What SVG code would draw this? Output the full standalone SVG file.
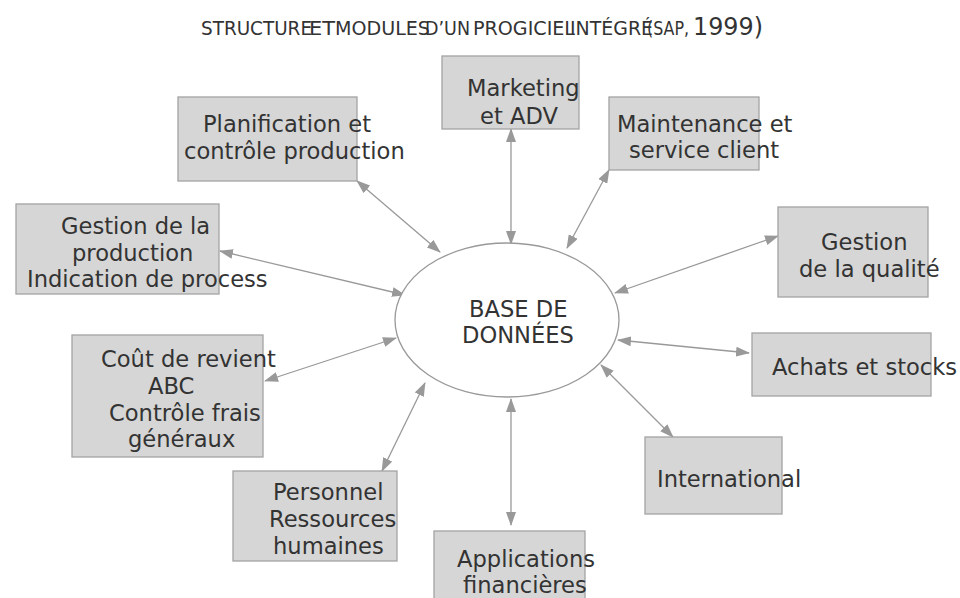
<svg xmlns="http://www.w3.org/2000/svg" width="960" height="598" viewBox="0 0 960 598">
<defs>
<marker id="ah" viewBox="0 0 14 10" refX="13" refY="5" markerWidth="14" markerHeight="10" markerUnits="userSpaceOnUse" orient="auto-start-reverse">
<path d="M0,0 L14,5 L0,10 Z" fill="#999"/>
</marker>
<style>
.box{fill:#d6d6d6;stroke:#a3a3a3;stroke-width:1.3}
.t{font-family:"DejaVu Sans",sans-serif;font-size:22.6px;fill:#333}
.tt{font-family:"DejaVu Sans",sans-serif;font-size:19.5px;fill:#333}
.c{stroke:#999;stroke-width:1.3;fill:none;marker-start:url(#ah);marker-end:url(#ah)}
</style>
</defs>
<rect width="960" height="598" fill="#fff"/>
<g id="title">
<text class="tt" x="201" y="35" textLength="111" lengthAdjust="spacingAndGlyphs">STRUCTURE</text>
<text class="tt" x="309" y="35" textLength="26" lengthAdjust="spacingAndGlyphs">ET</text>
<text class="tt" x="335" y="35" textLength="95" lengthAdjust="spacingAndGlyphs">MODULES</text>
<text class="tt" x="425" y="35" textLength="45" lengthAdjust="spacingAndGlyphs">D’UN</text>
<text class="tt" x="473" y="35" textLength="102" lengthAdjust="spacingAndGlyphs">PROGICIEL</text>
<text class="tt" x="570" y="35" textLength="83" lengthAdjust="spacingAndGlyphs">INTÉGRÉ</text>
<text class="tt" x="647" y="35" textLength="42" lengthAdjust="spacingAndGlyphs">(SAP,</text>
<text class="tt" x="693" y="35" style="font-size:24px" textLength="70" lengthAdjust="spacingAndGlyphs">1999)</text>
</g>
<g id="connectors">
<line class="c" x1="511" y1="129" x2="511" y2="244"/>
<line class="c" x1="357" y1="181" x2="440" y2="252"/>
<line class="c" x1="609" y1="170" x2="567" y2="248"/>
<line class="c" x1="778" y1="236" x2="615" y2="293"/>
<line class="c" x1="220" y1="251" x2="405" y2="295"/>
<line class="c" x1="265" y1="381" x2="396" y2="338"/>
<line class="c" x1="618" y1="340" x2="749" y2="353"/>
<line class="c" x1="601" y1="365" x2="673" y2="437"/>
<line class="c" x1="425" y1="383" x2="382" y2="471"/>
<line class="c" x1="511" y1="399" x2="511" y2="525"/>
</g>
<g id="db">
<ellipse cx="507" cy="320" rx="112" ry="77" fill="#fff" stroke="#999" stroke-width="1.3"/>
<text class="t" x="469" y="317">BASE DE</text>
<text class="t" x="462" y="343">DONNÉES</text>
</g>
<g id="marketing">
<rect class="box" x="442" y="56" width="137" height="73"/>
<text class="t" x="467" y="96">Marketing</text>
<text class="t" x="480" y="124">et ADV</text>
</g>
<g id="planification">
<rect class="box" x="178" y="97" width="179" height="84"/>
<text class="t" x="203" y="132">Planification et</text>
<text class="t" x="184" y="159">contrôle production</text>
</g>
<g id="maintenance">
<rect class="box" x="609" y="97" width="150" height="73"/>
<text class="t" x="617" y="132">Maintenance et</text>
<text class="t" x="629" y="158">service client</text>
</g>
<g id="qualite">
<rect class="box" x="778" y="207" width="150" height="90"/>
<text class="t" x="821" y="250">Gestion</text>
<text class="t" x="799" y="277">de la qualité</text>
</g>
<g id="production">
<rect class="box" x="16" y="204" width="203" height="90"/>
<text class="t" x="61" y="234">Gestion de la</text>
<text class="t" x="72" y="261">production</text>
<text class="t" x="27" y="287">Indication de process</text>
</g>
<g id="cout">
<rect class="box" x="72" y="335" width="191" height="122"/>
<text class="t" x="101" y="367">Coût de revient</text>
<text class="t" x="148" y="394">ABC</text>
<text class="t" x="109" y="421">Contrôle frais</text>
<text class="t" x="128" y="447">généraux</text>
</g>
<g id="achats">
<rect class="box" x="752" y="333" width="179" height="63"/>
<text class="t" x="772" y="375">Achats et stocks</text>
</g>
<g id="international">
<rect class="box" x="645" y="437" width="137" height="77"/>
<text class="t" x="657" y="487">International</text>
</g>
<g id="personnel">
<rect class="box" x="233" y="471" width="164" height="90"/>
<text class="t" x="273" y="500">Personnel</text>
<text class="t" x="269" y="527">Ressources</text>
<text class="t" x="273" y="554">humaines</text>
</g>
<g id="applications">
<rect class="box" x="434" y="531" width="151" height="80"/>
<text class="t" x="457" y="567">Applications</text>
<text class="t" x="463" y="593">financières</text>
</g>
</svg>
